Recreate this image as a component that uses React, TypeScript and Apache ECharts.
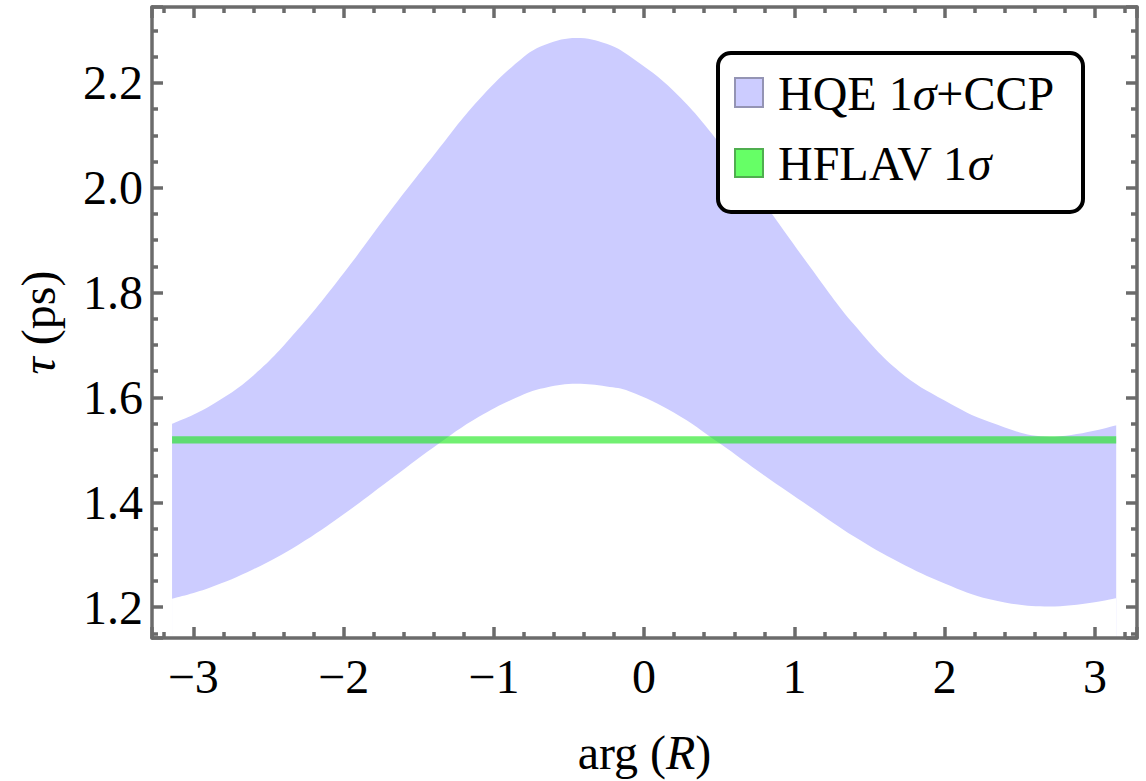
import React, { useEffect, useRef } from "react";
import * as echarts from "echarts";

// arg(R) sample positions (radians)
const argR = [
  -3.1416, -2.9, -2.6, -2.3, -2.0, -1.7, -1.4, -1.1, -0.8, -0.65, -0.45, -0.25,
  -0.1, 0.2, 0.5, 0.8, 1.1, 1.4, 1.7, 2.0, 2.3, 2.7, 3.1416,
];
// HQE 1σ + CCP band, upper and lower edges (ps)
const hqeUpper = [
  1.55, 1.582, 1.642, 1.731, 1.837, 1.952, 2.062, 2.168, 2.25, 2.274, 2.286, 2.275,
  2.252, 2.184, 2.086, 1.97, 1.851, 1.738, 1.649, 1.594, 1.553, 1.525, 1.547,
];
const hqeLower = [
  1.216, 1.236, 1.272, 1.319, 1.377, 1.441, 1.505, 1.563, 1.606, 1.619, 1.626, 1.621,
  1.612, 1.571, 1.513, 1.451, 1.392, 1.334, 1.285, 1.245, 1.215, 1.201, 1.217,
];
// HFLAV 1σ band
const hflavRange = [-3.1416, 3.1416];
const hflavCentral = 1.519;
const hflavError = 0.007;

const legendNames = ["HQE 1{i|σ}+CCP", "HFLAV 1{i|σ}"];

const FONT = "Liberation Serif";
const FS = 48;
const FRAME = "#6b6b6b";

export default function App() {
  const ref = useRef<HTMLDivElement>(null);

  useEffect(() => {
    const chart = echarts.init(ref.current!, null, { renderer: "svg" });

    const upperData = argR.map((x, i) => [x, hqeUpper[i]]);
    const lowerData = argR.map((x, i) => [x, hqeLower[i]]);
    const hflavData = hflavRange.map((x) => [x, hflavCentral]);

    const richItalic = { i: { fontStyle: "italic", fontFamily: FONT, fontSize: FS, color: "#000" } };

    const xCommon = {
      type: "value",
      min: -3.275,
      max: 3.28,
      splitNumber: 5,
      z: 10,
      splitLine: { show: false },
      axisLine: { show: true, onZero: false, lineStyle: { color: FRAME, width: 3.5 } },
      axisTick: { show: true, inside: true, length: 11, lineStyle: { color: FRAME, width: 3.5 } },
      minorTick: { show: true, splitNumber: 5, length: 6, lineStyle: { color: FRAME, width: 3.5 } },
    };
    const yCommon = {
      type: "value",
      min: 1.141,
      max: 2.345,
      splitNumber: 5,
      z: 10,
      splitLine: { show: false },
      axisLine: { show: true, onZero: false, lineStyle: { color: FRAME, width: 3.5 } },
      axisTick: { show: true, inside: true, length: 11, lineStyle: { color: FRAME, width: 3.5 } },
      minorTick: { show: true, splitNumber: 4, length: 6, lineStyle: { color: FRAME, width: 3.5 } },
    };

    // pixels per ps on the y axis, used to turn the HFLAV error into a stroke width
    const plotHeight = 781 - 7 - 141;
    const pxPerPs = plotHeight / (2.345 - 1.141);

    chart.setOption({
      animation: false,
      backgroundColor: "#fff",
      grid: { left: 152, right: 9, top: 7, bottom: 141, containLabel: false },
      xAxis: [
        {
          ...xCommon,
          position: "bottom",
          name: "arg ({i|R})",
          nameLocation: "middle",
          nameGap: 90,
          nameTextStyle: { fontFamily: FONT, fontSize: FS, color: "#000", rich: richItalic },
          axisLabel: {
            show: true,
            margin: 14,
            fontFamily: FONT,
            fontSize: FS,
            color: "#000",
            showMinLabel: false,
            showMaxLabel: false,
            formatter: (v: number) => (v < 0 ? "\u2212" + Math.abs(v) : String(v)),
          },
        },
        { ...xCommon, position: "top", axisLabel: { show: false } },
      ],
      yAxis: [
        {
          ...yCommon,
          position: "left",
          name: "{i|τ} (ps)",
          nameLocation: "middle",
          nameGap: 90,
          nameTextStyle: { fontFamily: FONT, fontSize: FS, color: "#000", rich: richItalic },
          axisLabel: {
            show: true,
            margin: 9,
            fontFamily: FONT,
            fontSize: FS,
            color: "#000",
            showMinLabel: false,
            showMaxLabel: false,
            formatter: (v: number) => v.toFixed(1),
          },
        },
        { ...yCommon, position: "right", axisLabel: { show: false } },
      ],
      series: [
        {
          type: "line",
          name: "HQE 1σ+CCP",
          data: upperData,
          smooth: 0.4,
          symbol: "none",
          lineStyle: { width: 0, opacity: 0 },
          areaStyle: { color: "#ccccff", opacity: 1, origin: "start" },
          silent: true,
          z: 2,
        },
        {
          type: "line",
          name: "hqe-lower",
          data: lowerData,
          smooth: 0.4,
          symbol: "none",
          lineStyle: { width: 0, opacity: 0 },
          areaStyle: { color: "#ffffff", opacity: 1, origin: "start" },
          silent: true,
          z: 3,
        },
        {
          type: "line",
          name: "HFLAV 1σ",
          data: hflavData,
          symbol: "none",
          lineStyle: { width: 2 * hflavError * pxPerPs, color: "rgba(20,230,20,0.6)", cap: "butt" },
          silent: true,
          z: 4,
        },
      ],
      graphic: [
        {
          type: "rect",
          shape: { x: 718, y: 53, width: 365, height: 159, r: 13 },
          style: { fill: "#fff", stroke: "#000", lineWidth: 4 },
          z: 100,
        },
        {
          type: "rect",
          shape: { x: 735, y: 78, width: 28, height: 29 },
          style: { fill: "#ccccff", stroke: "#9494b4", lineWidth: 2 },
          z: 101,
        },
        {
          type: "rect",
          shape: { x: 735, y: 149, width: 28, height: 28 },
          style: { fill: "#66ff66", stroke: "#4fae4f", lineWidth: 2 },
          z: 101,
        },
        {
          type: "text",
          x: 778,
          y: 93,
          style: {
            text: legendNames[0],
            fontFamily: FONT,
            fontSize: FS,
            fill: "#000",
            verticalAlign: "middle",
            rich: richItalic,
          },
          z: 101,
        },
        {
          type: "text",
          x: 778,
          y: 163,
          style: {
            text: legendNames[1],
            fontFamily: FONT,
            fontSize: FS,
            fill: "#000",
            verticalAlign: "middle",
            rich: richItalic,
          },
          z: 101,
        },
      ],
    });

    return () => chart.dispose();
  }, []);

  return (
    <div
      ref={ref}
      style={{ position: "absolute", left: 0, top: 0, width: 1146, height: 781 }}
    />
  );
}
